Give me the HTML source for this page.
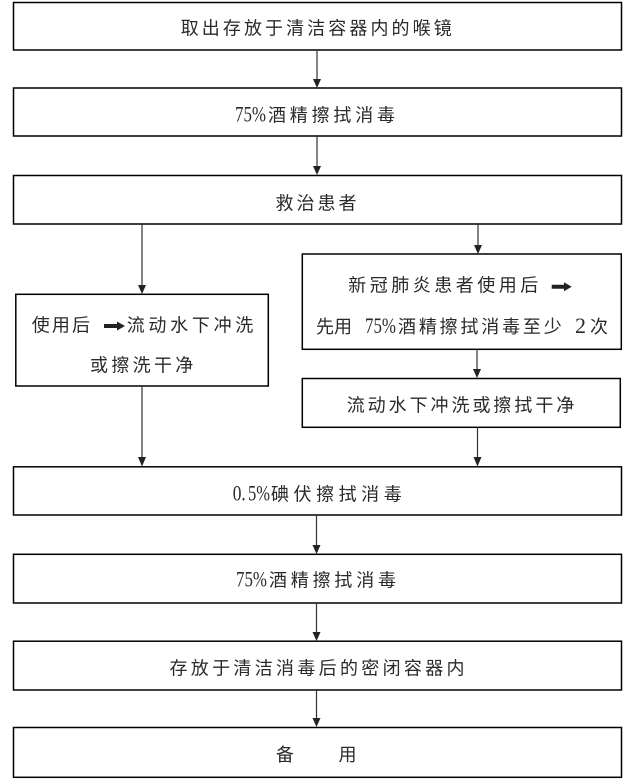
<!DOCTYPE html>
<html>
<head>
<meta charset="utf-8">
<style>
html,body{margin:0;padding:0;background:#fff;}
svg{display:block;}
text{font-family:"Liberation Serif","Noto Sans CJK SC",sans-serif;font-size:18px;fill:#2a2a2a;}
text.d{font-size:22px;}
</style>
</head>
<body>
<svg width="634" height="781" viewBox="0 0 634 781" xmlns="http://www.w3.org/2000/svg">
<g fill="none" stroke="#000" stroke-width="1.5">
<rect x="13.5" y="2.5" width="608" height="47.5"/>
<rect x="13.5" y="88" width="608" height="48"/>
<rect x="13.5" y="175.5" width="608" height="48.5"/>
<rect x="15.8" y="294.3" width="252.5" height="91.7"/>
<rect x="302.3" y="254" width="319" height="95.3"/>
<rect x="302.3" y="378.5" width="318" height="48.8"/>
<rect x="13.5" y="466.8" width="608" height="48.2"/>
<rect x="13.5" y="554.3" width="608" height="48.7"/>
<rect x="13.5" y="641.2" width="608" height="48.8"/>
<rect x="13.5" y="727.5" width="608" height="49.8"/>
</g>
<g stroke="#333" stroke-width="1.2">
<line x1="317" y1="50" x2="317" y2="80"/>
<line x1="317" y1="136" x2="317" y2="167"/>
<line x1="142" y1="224" x2="142" y2="286"/>
<line x1="478" y1="224" x2="478" y2="246"/>
<line x1="477" y1="349" x2="477" y2="370"/>
<line x1="142" y1="386" x2="142" y2="458"/>
<line x1="477.5" y1="427" x2="477.5" y2="458"/>
<line x1="316.5" y1="515" x2="316.5" y2="546"/>
<line x1="316.5" y1="603" x2="316.5" y2="633"/>
<line x1="316.5" y1="690" x2="316.5" y2="719"/>
</g>
<g fill="#222">
<polygon points="313,79 321,79 317,88"/>
<polygon points="313,166 321,166 317,175"/>
<polygon points="138,285 146,285 142,294"/>
<polygon points="474,245 482,245 478,254"/>
<polygon points="473,369 481,369 477,378"/>
<polygon points="138,457 146,457 142,466.5"/>
<polygon points="473.5,457 481.5,457 477.5,466.5"/>
<polygon points="312.5,545 320.5,545 316.5,554"/>
<polygon points="312.5,632 320.5,632 316.5,641"/>
<polygon points="312.5,718 320.5,718 316.5,727"/>
<polygon points="104,324 117,324 117,321.5 125,326 117,330.5 117,328 104,328"/>
<polygon points="551.7,284.7 564,284.7 564,282.2 571.7,286.7 564,291.2 564,288.7 551.7,288.7"/>
</g>
<g>
<text x="180.7" y="34.5" textLength="271" lengthAdjust="spacing">取出存放于清洁容器内的喉镜</text>
<text class="d" x="235" y="121.5" textLength="31" lengthAdjust="spacingAndGlyphs">75%</text>
<text x="268" y="121.5" textLength="127" lengthAdjust="spacing">酒精擦拭消毒</text>
<text x="275.5" y="209.5" textLength="81" lengthAdjust="spacing">救治患者</text>
<text x="31.7" y="331.5" textLength="58.3" lengthAdjust="spacing">使用后</text>
<text x="126.7" y="331.5" textLength="126.6" lengthAdjust="spacing">流动水下冲洗</text>
<text x="90" y="371.5" textLength="103.3" lengthAdjust="spacing">或擦洗干净</text>
<text x="348.3" y="291.5" textLength="190" lengthAdjust="spacing">新冠肺炎患者使用后</text>
<text x="316" y="333">先</text>
<text x="334" y="333">用</text>
<text class="d" x="365" y="333" textLength="31" lengthAdjust="spacingAndGlyphs">75%</text>
<text x="398" y="333" textLength="163.7" lengthAdjust="spacing">酒精擦拭消毒至少</text>
<text class="d" x="575" y="333">2</text>
<text x="590" y="333">次</text>
<text x="346.7" y="411.5" textLength="227.6" lengthAdjust="spacing">流动水下冲洗或擦拭干净</text>
<text class="d" x="232.7" y="500.5" textLength="13" lengthAdjust="spacingAndGlyphs">0.</text>
<text class="d" x="248" y="500.5" textLength="22" lengthAdjust="spacingAndGlyphs">5%</text>
<text x="271" y="500.5" textLength="130.7" lengthAdjust="spacing">碘伏擦拭消毒</text>
<text class="d" x="236" y="586.5" textLength="31" lengthAdjust="spacingAndGlyphs">75%</text>
<text x="269" y="586.5" textLength="127" lengthAdjust="spacing">酒精擦拭消毒</text>
<text x="169.5" y="674.5" textLength="295" lengthAdjust="spacing">存放于清洁消毒后的密闭容器内</text>
<text x="276" y="761">备</text>
<text x="338.5" y="761">用</text>
</g>
</svg>
</body>
</html>
